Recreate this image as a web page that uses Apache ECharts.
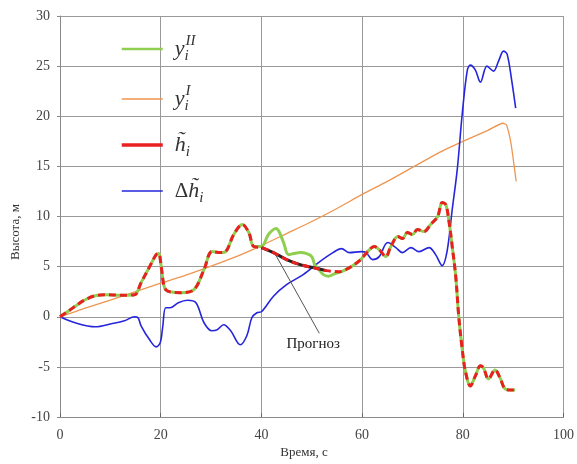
<!DOCTYPE html>
<html>
<head>
<meta charset="utf-8">
<script src="https://cdn.jsdelivr.net/npm/echarts@6/dist/echarts.min.js"></script>
<style>html,body{margin:0;padding:0;background:#fff}#c{width:577px;height:464px}</style>
</head>
<body>
<div id="c"></div>
<script>
// ---- data ----
const xTicks = [0, 20, 40, 60, 80, 100];
const yTicks = [-10, -5, 0, 5, 10, 15, 20, 25, 30];

// h~_i (filtered estimate)
const hT = [0,1.5,3,5,7,9,12,14.8,16.1,17.8,19.1,19.6,20.1,20.7,21.4,24,26.6,28.6,30.2,31.9,32.9,34.5,36.2,37.5,38.5,40,42.4,45,47.7,50.3,52.9,55.5,57.5,59.5,61.1,62.4,63.4,64.7,65.7,67.1,68,69,70,71,72.3,73.6,75,75.9,76.6,77.2,77.9,78.6,79.2,79.9,80.5,81.5,82.5,83.5,84.1,85.1,86.4,87.4,88.4,89.4,90.4];
const hV = [0,0.5,1.05,1.7,2.1,2.2,2.15,2.2,3.4,5.0,6.2,6.3,5.0,3.0,2.55,2.4,2.7,4.7,6.5,6.4,6.5,8.2,9.2,8.4,7.0,6.9,6.4,5.7,5.2,4.9,4.6,4.5,4.9,5.6,6.5,7.0,6.7,6.0,7.0,8.0,7.8,8.4,8.2,8.7,8.5,9.2,10.0,11.4,11.2,9.7,7.0,4.0,0,-3.3,-5.4,-6.9,-5.9,-4.9,-5.1,-6.2,-5.3,-6.1,-7.2,-7.3,-7.3];

// y^II_i
const y2T = [0,1.5,3,5,7,9,12,14.8,16.1,17.8,19.1,19.6,20.1,20.7,21.4,24,26.6,28.6,30.2,31.9,32.9,34.5,36.2,37.5,38.5,40,41.4,42.9,43.5,44.4,45.4,46.4,47.7,49,50,50.6,51.3,52.3,53.3,54.6,55.9,57.5,59.5,61.1,62.4,63.4,64.7,65.7,67.1,68,69,70,71,72.3,73.6,75,75.9,76.6,77.2,77.9,78.6,79.2,79.9,80.5,81.5,82.5,83.5,84.1,85.1,86.4,87.4,88.4,89.4,90.4];
const y2V = [0,0.5,1.05,1.7,2.1,2.2,2.15,2.2,3.4,5.0,6.2,6.3,5.0,3.0,2.55,2.4,2.7,4.7,6.5,6.4,6.5,8.2,9.2,8.4,7.0,7.0,8.2,8.8,8.5,7.4,6.2,6.3,6.4,6.3,6.0,5.2,4.8,4.2,4.05,4.3,4.5,4.9,5.6,6.5,7.0,6.7,6.0,7.0,8.0,7.8,8.4,8.2,8.7,8.5,9.2,10.0,11.4,11.2,9.7,7.0,4.0,0,-3.3,-5.4,-6.9,-5.9,-4.9,-5.1,-6.2,-5.3,-6.1,-7.2,-7.3,-7.3];

// forecast segment ("Прогноз")
const fT = [40,42.4,45,47.7,50.3,52.9];
const fV = [6.9,6.4,5.7,5.2,4.9,4.6];

// y^I_i
const y1T = [0,5,10,15,20,25,30,35,40,45,50,55,60,65,70,75,77,80,85,88,88.7,89.5,90,90.6];
const y1V = [0,0.85,1.65,2.5,3.35,4.15,5.05,6.0,7.1,8.3,9.5,10.8,12.2,13.5,14.9,16.3,16.8,17.5,18.6,19.3,19.1,17.5,15.8,13.5];

// Δh~_i
const dT = [0,3,7,10.2,12.8,14.8,15.5,16.1,17.8,19.1,19.9,20.4,21,21.9,23.5,25.3,27,28.6,30.2,31.2,32.5,33.9,35.8,37.1,38.1,39.1,40,42.4,45,48.3,51.6,54.2,55.9,57.5,59.8,60.8,62.1,63.4,65.1,66.7,68,69.7,71.3,73.3,74.6,75.9,76.9,77.9,78.9,79.9,80.9,81.5,82.5,83.5,84.8,86.1,87.1,88.1,88.8,89.7,90.5];
const dV = [0,-0.6,-1.0,-0.7,-0.4,0.0,-0.1,-0.9,-2.3,-3.0,-2.6,-1.0,0.9,0.9,1.4,1.65,1.4,-0.6,-1.4,-1.3,-0.8,-1.4,-2.8,-1.9,-0.1,0.4,0.5,2.05,3.2,4.2,5.5,6.4,6.8,6.4,6.5,6.4,5.7,6.0,7.4,6.9,6.4,6.9,6.5,6.9,6.2,5.1,6.6,10.7,14.7,20.3,24.6,25.1,24.6,23.4,25.0,24.5,25.5,26.5,26.2,23.6,20.8];

// annotation pointer (data coords) and label
const noteFrom = [42.8, 6.2];
const noteTo = [51.5, -1.65];
const noteAt = [50.3, -2.75];
const noteText = 'Прогноз';
const xName = 'Время, с';
const yName = 'Высота, м';

const pairs = (t, v) => t.map((x, i) => [x, v[i]]);

const serif = 'Liberation Serif, Times New Roman, serif';
const chart = echarts.init(document.getElementById('c'), null, {renderer: 'canvas'});
const legendLabels = {
  yII: '{v|y}{sub|i}{sup|II}',
  yI: '{v|y}{sub|i}{sup|I}',
  h: '{v|h\u0303}{sub|i}',
  dh: '{d|\u0394}{v|h\u0303}{sub|i}'
};
const noSym = {opacity: 0};
chart.setOption({
  animation: false,
  backgroundColor: '#fff',
  grid: {left: 60, top: 16, right: 10, bottom: 47},
  xAxis: {
    type: 'value', min: 0, max: 100, interval: 20,
    axisLine: {show: true, onZero: false, lineStyle: {color: '#8a8a8a', width: 1}},
    axisTick: {show: true, inside: true, length: 4, lineStyle: {color: '#666'}},
    axisLabel: {fontFamily: serif, fontSize: 14, color: '#444', margin: 11},
    splitLine: {show: true, lineStyle: {color: '#9a9a9a', width: 1}}
  },
  yAxis: {
    type: 'value', min: -10, max: 30, interval: 5,
    axisLine: {show: true, lineStyle: {color: '#8a8a8a', width: 1}},
    axisTick: {show: true, length: 3, lineStyle: {color: '#8a8a8a'}},
    axisLabel: {fontFamily: serif, fontSize: 14, color: '#444', margin: 10},
    splitLine: {show: true, lineStyle: {color: '#9a9a9a', width: 1}}
  },
  legend: {
    orient: 'vertical', left: 115, top: 29, itemWidth: 41, itemHeight: 14, itemGap: 20,
    itemStyle: noSym,
    data: [
      {name: 'yII', lineStyle: {type: 'solid', width: 2.5}, itemStyle: noSym},
      {name: 'yI', lineStyle: {type: 'solid', width: 1.5}, itemStyle: noSym},
      {name: 'h', lineStyle: {type: 'solid', width: 3.5}, itemStyle: noSym},
      {name: 'dh', lineStyle: {type: 'solid', width: 1.5}, itemStyle: noSym}
    ],
    formatter: n => legendLabels[n],
    textStyle: {
      padding: [0, 0, 0, 7],
      rich: {
        v: {fontFamily: serif, fontStyle: 'italic', fontSize: 22, lineHeight: 30, color: '#333'},
        d: {fontFamily: serif, fontSize: 21, lineHeight: 30, color: '#333'},
        sub: {fontFamily: serif, fontStyle: 'italic', fontSize: 15, lineHeight: 12, verticalAlign: 'bottom', color: '#333', width: 1},
        sup: {fontFamily: serif, fontStyle: 'italic', fontSize: 15, lineHeight: 10, verticalAlign: 'top', color: '#333'}
      }
    }
  },
  graphic: [
    {type: 'text', x: 16, y: 232, rotation: Math.PI / 2,
     style: {text: yName, font: '13px ' + serif, fill: '#333', align: 'center', verticalAlign: 'middle'}},
    {type: 'text', x: 304, y: 453,
     style: {text: xName, font: '13px ' + serif, fill: '#333', align: 'center', verticalAlign: 'middle'}}
  ],
  series: [
    {name: 'yI', type: 'line', data: pairs(y1T, y1V), symbol: 'none', smooth: 0.2,
     lineStyle: {color: '#ee9550', width: 1.3}, itemStyle: {color: '#ee9550'}, z: 2},
    {name: 'dh', type: 'line', data: pairs(dT, dV), symbol: 'none', smooth: 0.35,
     lineStyle: {color: '#2525dc', width: 1.6}, itemStyle: {color: '#2525dc'}, z: 3},
    {name: 'yII', type: 'line', data: pairs(y2T, y2V), symbol: 'none', smooth: 0.35,
     lineStyle: {color: '#8fcf4f', width: 3}, itemStyle: {color: '#8fcf4f'}, z: 4},
    {name: 'forecast', type: 'line', data: pairs(fT, fV), symbol: 'none', smooth: 0.35,
     lineStyle: {color: '#222', width: 3}, itemStyle: {color: '#222'}, z: 5,
     markLine: {silent: true, symbol: 'none', label: {show: false},
       lineStyle: {color: '#555', width: 1, type: 'solid'},
       data: [[{coord: noteFrom}, {coord: noteTo}]]},
     markPoint: {silent: true, symbol: 'rect', symbolSize: 1, itemStyle: {color: 'rgba(0,0,0,0)'},
       label: {show: true, position: 'inside', formatter: noteText, fontFamily: serif, fontSize: 15, color: '#222'},
       data: [{coord: noteAt}]}},
    {name: 'h', type: 'line', data: pairs(hT, hV), symbol: 'none', smooth: 0.35,
     lineStyle: {color: '#e82020', width: 3, type: [7, 4]}, itemStyle: {color: '#e82020'}, z: 6}
  ]
});
</script>
</body>
</html>
